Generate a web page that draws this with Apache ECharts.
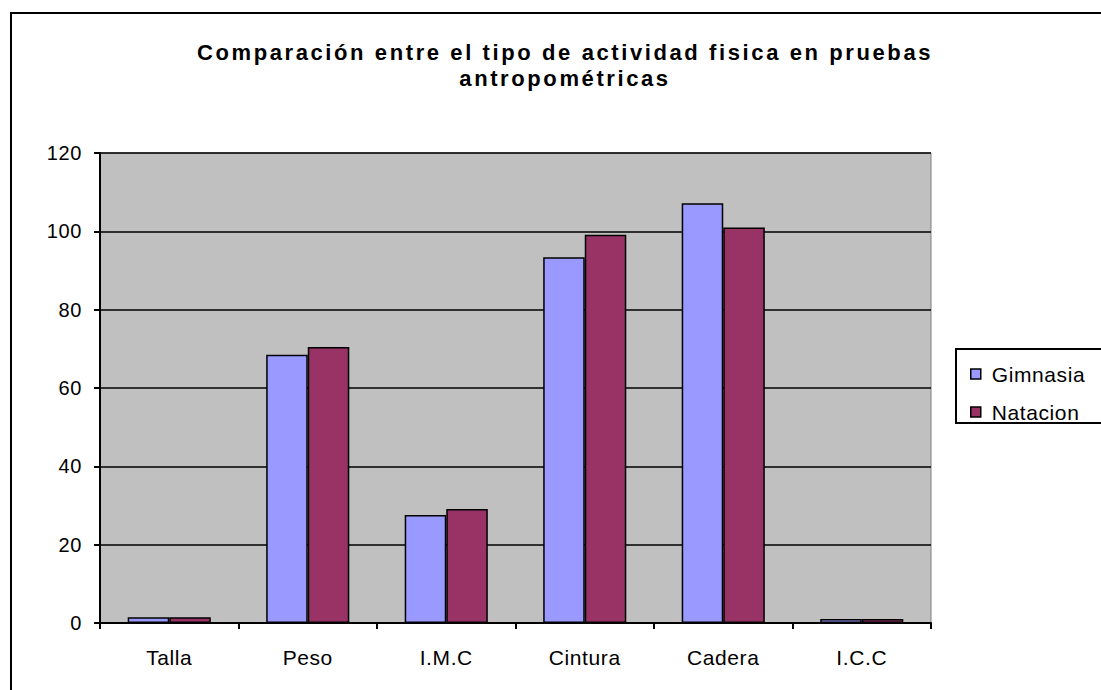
<!DOCTYPE html>
<html>
<head>
<meta charset="utf-8">
<script src="https://cdn.jsdelivr.net/npm/echarts@6/dist/echarts.min.js"></script>
<style>
  html, body { margin: 0; padding: 0; background: #ffffff; }
  #chart { width: 1101px; height: 690px; }
  #chart text { letter-spacing: 0.6px; }
  #chart text[style*="bold"] { letter-spacing: 2.6px; }
</style>
</head>
<body>
<div id="chart"></div>
<script>
const categories = ['Talla', 'Peso', 'I.M.C', 'Cintura', 'Cadera', 'I.C.C'];
const gimnasia = [1.5, 68.5, 27.6, 93.4, 107.2, 1.0];
const natacion = [1.5, 70.5, 29.1, 99.1, 101.0, 1.0];
const seriesNames = ['Gimnasia', 'Natacion'];
const titleText = 'Comparación entre el tipo de actividad fisica en pruebas\nantropométricas';

const FONT = '"Liberation Sans", Arial, sans-serif';
const chart = echarts.init(document.getElementById('chart'), null, { renderer: 'svg' });

chart.setOption({
  animation: false,
  backgroundColor: '#ffffff',
  title: {
    text: titleText,
    left: 560,
    top: 34,
    textAlign: 'center',
    textStyle: { fontFamily: FONT, fontSize: 22, fontWeight: 'bold', color: '#000', lineHeight: 26 }
  },
  legend: {
    orient: 'vertical',
    left: 965,
    top: 356,
    itemWidth: 10,
    itemHeight: 10,
    itemGap: 12,
    icon: 'rect',
    itemStyle: { borderColor: '#000', borderWidth: 1.5 },
    textStyle: { fontFamily: FONT, fontSize: 21, color: '#000', lineHeight: 26, padding: [0, 0, 0, 6] },
    data: seriesNames
  },
  grid: { left: 100, right: 170, top: 153, bottom: 67, show: true, backgroundColor: '#c0c0c0', borderColor: '#808080', borderWidth: 1 },
  xAxis: {
    type: 'category',
    data: categories,
    axisLine: { lineStyle: { color: '#000', width: 2 } },
    axisTick: { show: true, length: 6, lineStyle: { color: '#000', width: 2 } },
    axisLabel: { fontFamily: FONT, fontSize: 21, color: '#000', margin: 24 }
  },
  yAxis: {
    type: 'value',
    min: 0, max: 120, interval: 20,
    axisLine: { show: true, lineStyle: { color: '#000', width: 2 } },
    axisTick: { show: true, length: 6, lineStyle: { color: '#000', width: 2 } },
    axisLabel: { fontFamily: FONT, fontSize: 20, color: '#000', margin: 18 },
    splitLine: { lineStyle: { color: '#000', width: 1.5 } }
  },
  series: [
    {
      name: seriesNames[0], type: 'bar', data: gimnasia,
      barGap: '0%', barCategoryGap: '40%',
      itemStyle: { color: '#9999ff', borderColor: '#000', borderWidth: 1.5 }
    },
    {
      name: seriesNames[1], type: 'bar', data: natacion,
      itemStyle: { color: '#993366', borderColor: '#000', borderWidth: 1.5 }
    }
  ],
  graphic: [
    { type: 'rect', shape: { x: 11, y: 13, width: 1200, height: 800 }, style: { fill: 'none', stroke: '#000', lineWidth: 2 }, z: 100 },
    { type: 'rect', shape: { x: 956, y: 349, width: 300, height: 74 }, style: { fill: 'none', stroke: '#000', lineWidth: 2 }, z: 100 }
  ]
});
</script>
</body>
</html>
